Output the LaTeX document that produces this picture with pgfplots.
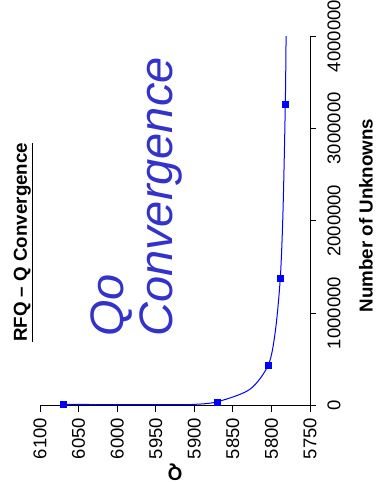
\documentclass[border=0pt]{standalone}
\usepackage{pgfplots}
\pgfplotsset{compat=1.18}
\usepackage{fontspec}
\setmainfont{Liberation Sans}
\definecolor{qoblue}{RGB}{51,51,204}
\begin{document}
\begin{tikzpicture}
\path[use as bounding box] (-40pt,-76.5pt) rectangle (336pt,405.5pt);
\begin{axis}[
  at={(0pt,0pt)}, anchor=south west,
  scale only axis, width=270pt, height=369.5pt,
  xmin=5750, xmax=6100, x dir=reverse,
  ymin=0, ymax=4000000,
  axis x line*=bottom, axis y line*=right,
  axis line style={black, line width=0.8pt},
  tick style={black, line width=0.8pt},
  tick align=outside, major tick length=6pt,
  xtick={5750,5800,5850,5900,5950,6000,6050,6100},
  ytick={0,1000000,2000000,3000000,4000000},
  scaled y ticks=false, scaled x ticks=false,
  xticklabel={\pgfmathprintnumber[assume math mode=true,1000 sep={},fixed,precision=0]{\tick}},
  yticklabel={\pgfmathprintnumber[assume math mode=true,1000 sep={},fixed,precision=0]{\tick}},
  x tick label style={rotate=90, anchor=east, font=\fontsize{18.5}{20}\selectfont},
  y tick label style={rotate=90, anchor=north, font=\fontsize{18.5}{20}\selectfont},
  xticklabel shift=3pt, yticklabel shift=8pt,
  clip=false,
]
\addplot[blue, smooth, line width=1pt] coordinates {
(6070,13000) (6000,9000) (5930,9000) (5900,12000) (5870,41000)
(5828,175000) (5804,440000) (5795,800000)
(5788.5,1380000) (5785,2100000) (5782,3260000) (5781,4000000)
};
\addplot[only marks, mark=square*, mark size=3pt, blue] coordinates {
(6070,13000) (5870,41000) (5804,440000) (5788.5,1380000) (5782,3260000)
};
\end{axis}
\node[rotate=90, anchor=base west, inner sep=0pt, font=\fontsize{18.75}{22}\selectfont\bfseries] at (-13pt,63.5pt) {\underline{RFQ -- Q Convergence}};
\node[rotate=90, anchor=base west, inner sep=0pt, text=qoblue, font=\fontsize{47}{50}\selectfont\itshape] at (83pt,68.5pt) {Qo};
\node[rotate=90, anchor=base west, inner sep=0pt, text=qoblue, font=\fontsize{47}{50}\selectfont\itshape] at (132pt,68.5pt) {Convergence};
\node[rotate=180, anchor=center, inner sep=0pt, font=\fontsize{18.75}{22}\selectfont\bfseries] at (135pt,-66.5pt) {Q};
\node[rotate=90, anchor=center, inner sep=0pt, font=\fontsize{18.75}{22}\selectfont\bfseries] at (326pt,190pt) {Number of Unknowns};
\end{tikzpicture}
\end{document}
